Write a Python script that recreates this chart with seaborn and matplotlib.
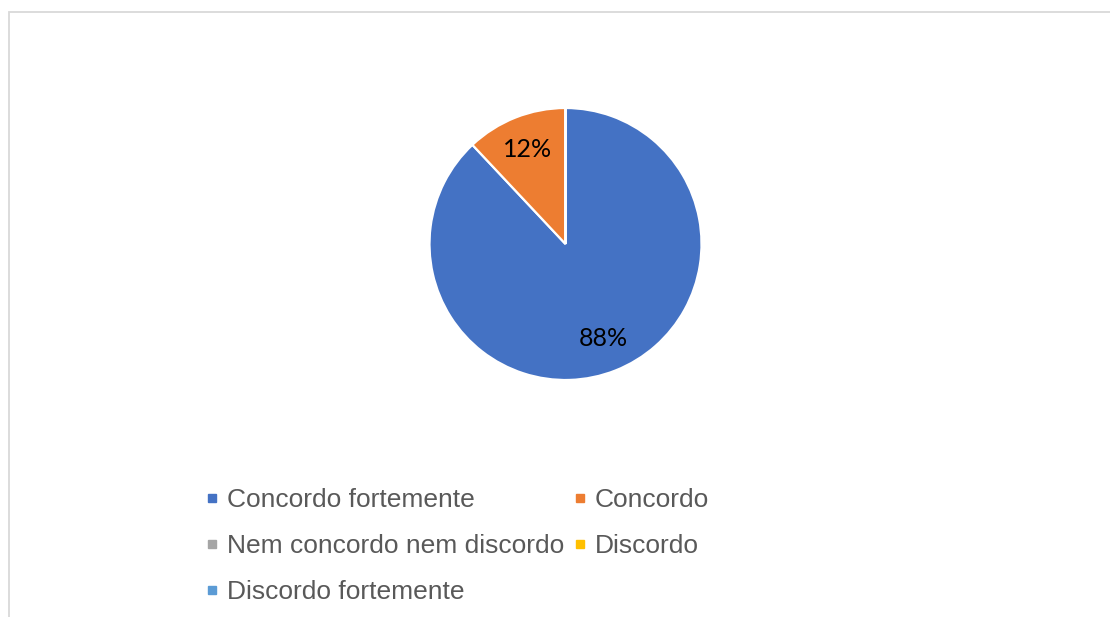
import matplotlib
matplotlib.use("Agg")
import matplotlib.pyplot as plt
import seaborn as sns
from matplotlib.lines import Line2D
from matplotlib.patches import Rectangle

categories = ["Concordo fortemente", "Concordo", "Nem concordo nem discordo",
              "Discordo", "Discordo fortemente"]
shares = [88, 12, 0, 0, 0]
colors = ["#4472C4", "#ED7D31", "#A5A5A5", "#FFC000", "#5B9BD5"]


def pie_chart():
    sns.set_theme(style="white")
    plt.rcParams['font.family'] = ['Liberation Sans', 'DejaVu Sans']
    palette = sns.color_palette(colors)

    W, H = 1110, 617
    fig = plt.figure(figsize=(W / 100, H / 100), dpi=100)
    fig.patch.set_facecolor("white")

    # chart frame, cut off at right and bottom like the source
    fig.add_artist(Rectangle((8.5 / W, -0.05), 1.2, 1 + 0.05 - 12.5 / H,
                             transform=fig.transFigure, fill=False,
                             edgecolor="#D9D9D9", linewidth=1.3))

    cx, cy, r = 565.5, 244, 136
    ax = fig.add_axes([(cx - r) / W, (H - cy - r) / H, 2 * r / W, 2 * r / H])
    wedges, texts, autotexts = ax.pie(
        shares,
        colors=palette,
        startangle=90,
        counterclock=False,
        autopct=lambda p: f"{p:.0f}%" if p > 0 else "",
        pctdistance=0.75,
        wedgeprops=dict(edgecolor="white", linewidth=1.6),
        textprops=dict(fontsize=18, color="black", family=["Lato", "DejaVu Sans"]),
    )
    for w in wedges:
        w.set_clip_on(False)
    ax.set_xlim(-1, 1)
    ax.set_ylim(-1, 1)
    ax.axis("off")

    handles = [Line2D([], [], linestyle="none", marker="s", markersize=6,
                      markerfacecolor=c, markeredgecolor=c) for c in palette]
    order = [0, 2, 4, 1, 3]
    leg = fig.legend([handles[i] for i in order], [categories[i] for i in order],
                     loc="upper left", bbox_to_anchor=(207 / W, 1 - 488 / H),
                     ncol=2, frameon=False, fontsize=19,
                     handlelength=0.4, handletextpad=0.35,
                     columnspacing=0.4, labelspacing=0.84,
                     borderpad=0, borderaxespad=0)
    for t in leg.get_texts():
        t.set_color("#595959")

    fig.savefig("out.png", dpi=100)


if __name__ == "__main__":
    pie_chart()
